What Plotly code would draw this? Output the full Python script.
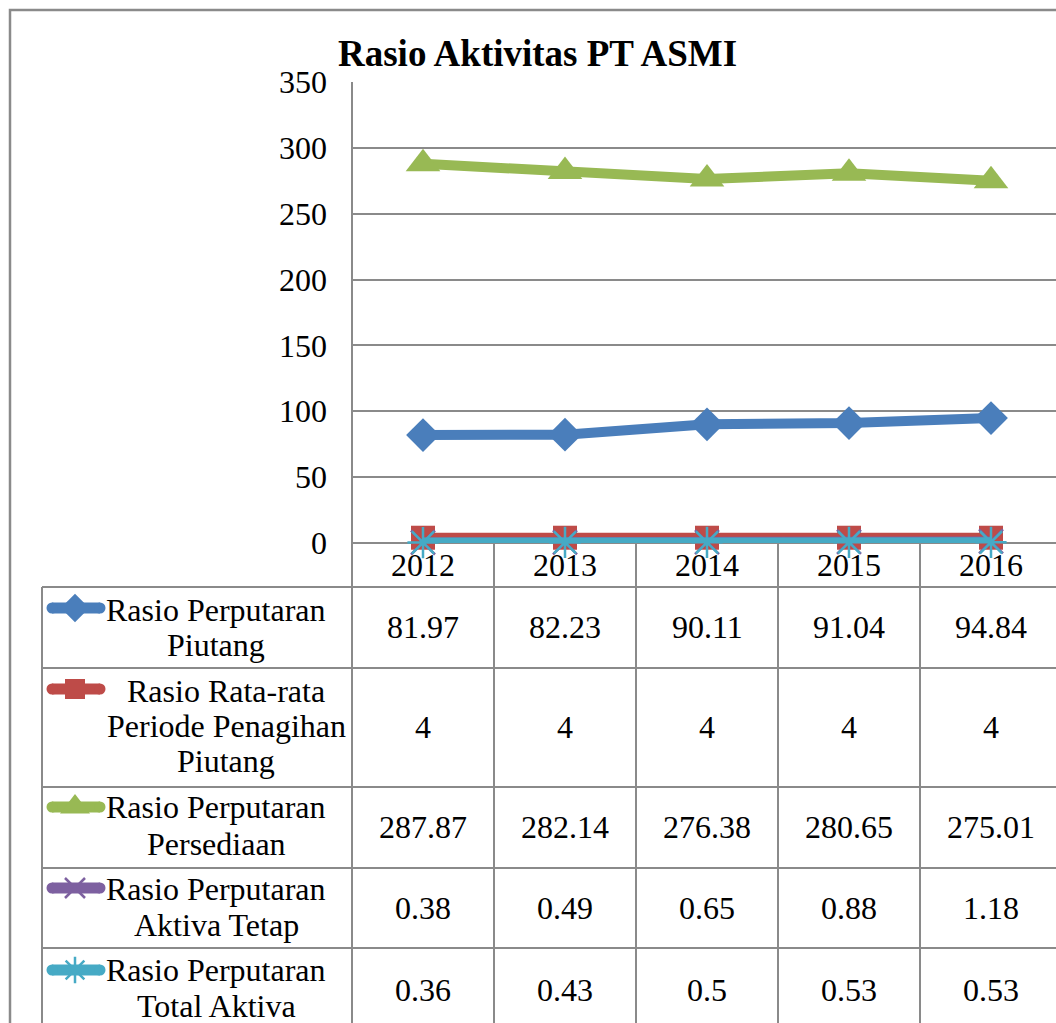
import plotly.graph_objects as go

# ---------------- data ----------------
years = ["2012", "2013", "2014", "2015", "2016"]
piutang = [81.97, 82.23, 90.11, 91.04, 94.84]
penagihan = [4, 4, 4, 4, 4]
persediaan = [287.87, 282.14, 276.38, 280.65, 275.01]
aktiva_tetap = [0.38, 0.49, 0.65, 0.88, 1.18]
total_aktiva = [0.36, 0.43, 0.5, 0.53, 0.53]

series_names = [
    ["Rasio Perputaran", "Piutang"],
    ["Rasio Rata-rata", "Periode Penagihan", "Piutang"],
    ["Rasio Perputaran", "Persediaan"],
    ["Rasio Perputaran", "Aktiva Tetap"],
    ["Rasio Perputaran", "Total Aktiva"],
]
series_values = [piutang, penagihan, persediaan, aktiva_tetap, total_aktiva]
title_text = "Rasio Aktivitas PT ASMI"
y_ticks = [0, 50, 100, 150, 200, 250, 300, 350]

# ---------------- style ----------------
W, H = 1056, 1023
FONT = "Liberation Serif"
FS = 32
GRID = "#8a8a8a"
colors = ["#4A7EBB", "#BE4B48", "#98B954", "#7D60A0", "#46AAC5"]
symbols = ["diamond", "square", "triangle-up", "x-thin", "asterisk"]
msizes = [26, 24, 30, 24, 26]
open_syms = ("x-thin", "asterisk")


def px_x(p):
    return p / W


def px_y(p):
    return 1 - p / H


PLOT_L, PLOT_T, PLOT_B = 352, 82, 543
CAT_W = 142
TABLE_L = 42
row_lines = [587, 668, 787, 868, 948]
key_y = [608, 689, 807, 888, 970]
label_y = [[610, 645], [691, 726, 761], [807, 844], [889, 925], [970, 1006]]
label_x = [216, 226, 216, 216, 216]
value_y = [627, 727, 827, 908, 990]


def marker(col, sym, size):
    mk = dict(symbol=sym, size=size, color=col, opacity=1)
    if sym in open_syms:
        mk["line"] = dict(color=col, width=2.5)
    else:
        mk["line"] = dict(width=0)
    return mk


fig = go.Figure()

# main chart lines
for vals, col, sym, ms in zip(series_values, colors, symbols, msizes):
    fig.add_trace(go.Scatter(
        x=years, y=vals, mode="lines+markers",
        line=dict(color=col, width=10),
        marker=marker(col, sym, ms), showlegend=False, hoverinfo="skip",
        xaxis="x", yaxis="y", cliponaxis=False,
    ))

# legend keys inside the data table (pixel overlay axis): rounded line + symbol
for i, (col, sym, ms) in enumerate(zip(colors, symbols, msizes)):
    fig.add_trace(go.Scatter(
        x=[52, 100], y=[key_y[i]] * 2, mode="lines+markers",
        line=dict(color=col, width=11),
        marker=dict(symbol="circle", size=11, color=col, line=dict(width=0)),
        showlegend=False, hoverinfo="skip", xaxis="x2", yaxis="y2",
    ))
    fig.add_trace(go.Scatter(
        x=[75], y=[key_y[i]], mode="markers",
        marker=marker(col, sym, ms - 4),
        showlegend=False, hoverinfo="skip", xaxis="x2", yaxis="y2",
    ))

shapes = []
line_style = dict(color=GRID, width=2)
shapes.append(dict(type="rect", xref="paper", yref="paper",
                   x0=px_x(10), x1=px_x(1070), y0=px_y(1040), y1=px_y(10),
                   line=dict(color=GRID, width=2.5)))
shapes.append(dict(type="line", xref="paper", yref="paper",
                   x0=px_x(PLOT_L), x1=px_x(PLOT_L), y0=px_y(PLOT_T), y1=px_y(H),
                   line=line_style))
for r in row_lines:
    shapes.append(dict(type="line", xref="paper", yref="paper",
                       x0=px_x(TABLE_L), x1=1, y0=px_y(r), y1=px_y(r), line=line_style))
shapes.append(dict(type="line", xref="paper", yref="paper",
                   x0=px_x(TABLE_L), x1=px_x(TABLE_L), y0=px_y(row_lines[0]), y1=px_y(H),
                   line=line_style))
for k in range(len(years)):
    shapes.append(dict(type="line", xref="x", yref="paper",
                       x0=k + 0.5, x1=k + 0.5, y0=px_y(PLOT_B), y1=px_y(H),
                       line=line_style))

annotations = []
annotations.append(dict(text="<b>" + title_text + "</b>", xref="paper", yref="paper",
                        x=px_x(537), y=px_y(54), xanchor="center", yanchor="middle",
                        showarrow=False, font=dict(family=FONT, size=37, color="black")))
for i, lines in enumerate(series_names):
    for j, t in enumerate(lines):
        annotations.append(dict(text=t, xref="paper", yref="paper",
                                x=px_x(label_x[i]), y=px_y(label_y[i][j]),
                                xanchor="center", yanchor="middle", showarrow=False,
                                font=dict(family=FONT, size=FS, color="black")))
    for k, v in enumerate(series_values[i]):
        annotations.append(dict(text=f"{v:g}", xref="x", yref="paper",
                                x=k, y=px_y(value_y[i]),
                                xanchor="center", yanchor="middle", showarrow=False,
                                font=dict(family=FONT, size=FS, color="black")))

x_right = (len(years) - 0.5) - (PLOT_L + CAT_W * len(years) - W) / CAT_W

fig.update_layout(
    template="none",
    width=W, height=H, autosize=False,
    margin=dict(l=0, r=0, t=0, b=0, pad=0, autoexpand=False),
    paper_bgcolor="white", plot_bgcolor="rgba(0,0,0,0)",
    font=dict(family=FONT, size=FS, color="black"),
    showlegend=False,
    xaxis=dict(domain=[px_x(PLOT_L), 1], range=[-0.5, x_right],
               type="category", showgrid=False, zeroline=False, showline=False,
               ticks="", tickfont=dict(family=FONT, size=FS, color="black"),
               ticklabelstandoff=0, fixedrange=True, automargin=False),
    yaxis=dict(domain=[px_y(PLOT_B), px_y(PLOT_T)], range=[0, 350],
               tickvals=y_ticks, showgrid=True, gridcolor=GRID, gridwidth=2,
               zeroline=True, zerolinecolor=GRID, zerolinewidth=2,
               showline=False, ticks="", ticklabelstandoff=24,
               tickfont=dict(family=FONT, size=FS, color="black"),
               fixedrange=True, automargin=False),
    xaxis2=dict(domain=[0, 1], range=[0, W], visible=False, anchor="y2",
                fixedrange=True, automargin=False),
    yaxis2=dict(domain=[0, 1], range=[H, 0], visible=False, anchor="x2",
                fixedrange=True, automargin=False),
    shapes=shapes,
    annotations=annotations,
)

fig.write_html("out.html", post_script="document.body.style.margin='0';",
               config={"displayModeBar": False})
